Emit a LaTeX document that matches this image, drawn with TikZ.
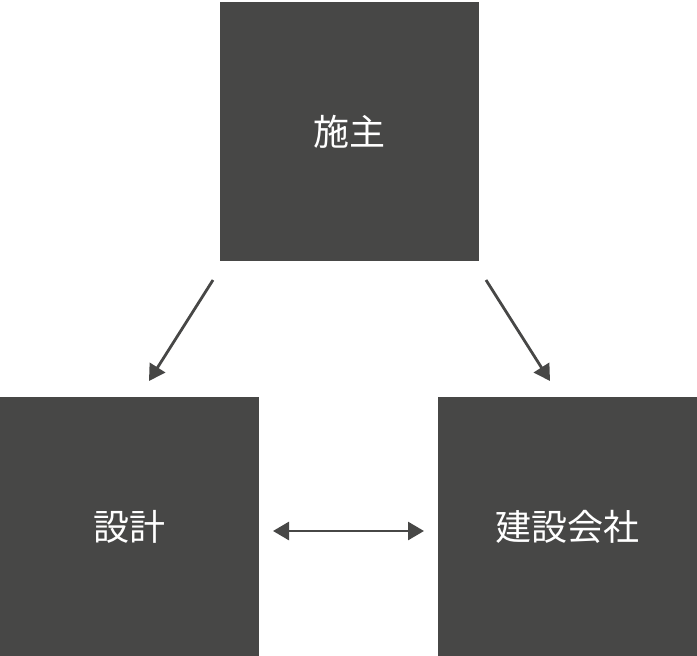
\documentclass[tikz,border=0pt]{standalone}
\usepackage{fontspec}
\newfontfamily\cjk{Noto Sans CJK JP}
\usetikzlibrary{arrows.meta}
\begin{document}
\begin{tikzpicture}[x=1pt,y=-1pt,
  boxst/.style={fill=boxc,draw=none,minimum width=259pt,minimum height=259pt,inner sep=0pt,text=white,font=\cjk\fontsize{36}{40}\selectfont},
  arr/.style={draw=boxc,line width=2.8pt,-{Triangle[length=16pt,width=18pt]}},
  darr/.style={draw=boxc,line width=2.8pt,{Triangle[length=16pt,width=18pt]}-{Triangle[length=16pt,width=18pt]}}]
\definecolor{boxc}{HTML}{474746}
\useasboundingbox (0,0) rectangle (697,656);
\node[boxst] (top) at (349,131.5) {施主};
\node[boxst] (left) at (129.5,526.5) {設計};
\node[boxst] (right) at (567,526.5) {建設会社};
\coordinate (a1) at (213,280); \coordinate (a2) at (149,381);
\coordinate (b1) at (486,280); \coordinate (b2) at (550,381);
\coordinate (c1) at (273,531); \coordinate (c2) at (424,531);
\draw[arr] (a1) -- (a2);
\draw[arr] (b1) -- (b2);
\draw[darr] (c1) -- (c2);
\end{tikzpicture}
\end{document}
